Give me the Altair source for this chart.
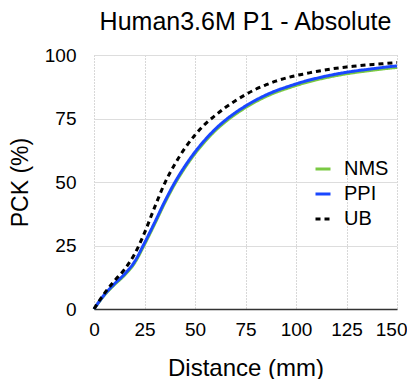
import altair as alt
import pandas as pd

distance = [0, 5, 10, 15, 20, 25, 30, 35, 40, 45, 50, 55, 60, 65, 70, 75,
            80, 85, 90, 95, 100, 105, 110, 115, 120, 125, 130, 135, 140, 145, 150]
ppi = [0, 5.5, 9.8, 13.6, 18.5, 26, 34, 42.3, 49.8, 56.2, 61.8, 66.6, 70.8, 74.3, 77.3, 79.9,
       82.2, 84.2, 85.9, 87.3, 88.6, 89.8, 90.8, 91.7, 92.5, 93.2, 93.8, 94.3, 94.8, 95.3, 95.7]
nms = [0, 5.3, 9.5, 13.2, 18.0, 25.4, 33.4, 41.7, 49.2, 55.6, 61.2, 66.0, 70.2, 73.7, 76.7, 79.3,
       81.6, 83.6, 85.3, 86.7, 88.0, 89.2, 90.2, 91.1, 91.9, 92.6, 93.2, 93.7, 94.2, 94.7, 95.1]
ub = [0, 6, 11, 15.5, 21.5, 30, 40, 49.5, 57, 63.3, 68.5, 72.8, 76.2, 79.3, 82, 84.4,
      86.5, 88.2, 89.7, 90.9, 91.9, 92.7, 93.5, 94.2, 94.8, 95.3, 95.7, 96.1, 96.4, 96.7, 97]
series = ["NMS", "PPI", "UB"]
colors = ["#7ac943", "#1a47ff", "#000000"]
dashes = [[1, 0], [1, 0], [5, 4]]

rows = []
for name, vals in zip(series, [nms, ppi, ub]):
    for d, v in zip(distance, vals):
        rows.append({"Distance": d, "PCK": v, "Method": name})
df = pd.DataFrame(rows)

FONT = "Liberation Sans"

legend = alt.Legend(title=None, orient="none", legendX=219, legendY=104,
                    labelFontSize=20, labelFont=FONT, labelColor="#000",
                    symbolType="stroke", symbolSize=225,
                    symbolStrokeWidth=3, rowPadding=5, labelOffset=11)

chart = alt.Chart(df).mark_line(interpolate="monotone", strokeWidth=3).encode(
    x=alt.X("Distance:Q", scale=alt.Scale(domain=[0, 150], nice=False),
            axis=alt.Axis(values=[0, 25, 50, 75, 100, 125, 150], title="Distance (mm)",
                          grid=True, gridDash=[1, 2], gridColor="#b0b0b0",
                          domainColor="#333333", domainWidth=1.5, ticks=False,
                          labelFlush=False, labelOverlap=False,
                          labelAlign={"condition": {"test": "datum.value == 150", "value": "right"},
                                      "value": "center"},
                          labelOffset={"condition": {"test": "datum.value == 150", "value": 10},
                                       "value": 0},
                          labelFontSize=19, labelPadding=11, labelColor="#000",
                          titleFontSize=24, titleFontWeight="normal", titlePadding=17,
                          titleColor="#000", labelFont=FONT, titleFont=FONT)),
    y=alt.Y("PCK:Q", scale=alt.Scale(domain=[0, 100], nice=False),
            axis=alt.Axis(values=[0, 25, 50, 75, 100], title="PCK (%)",
                          grid=True, gridColor="#dddddd", domain=False, ticks=False,
                          labelFlush=False, labelOverlap=False,
                          labelFontSize=19, labelPadding=18, labelColor="#000",
                          titleFontSize=23, titleFontWeight="normal", titlePadding=12,
                          titleColor="#000", labelFont=FONT, titleFont=FONT)),
    color=alt.Color("Method:N", scale=alt.Scale(domain=series, range=colors), legend=legend),
    strokeDash=alt.StrokeDash("Method:N", scale=alt.Scale(domain=series, range=dashes),
                              legend=legend),
    order=alt.Order("Method:N"),
).properties(
    width=303, height=254,
    title=alt.TitleParams("Human3.6M P1 - Absolute", fontSize=25, font=FONT,
                          fontWeight="normal", color="#000", anchor="middle", offset=11),
    autosize=alt.AutoSizeParams(type="none"),
    padding={"left": 86, "top": 47, "right": 10, "bottom": 70},
).configure_view(stroke=None)

chart.save("out.html", embed_options={"renderer": "svg", "actions": False})
